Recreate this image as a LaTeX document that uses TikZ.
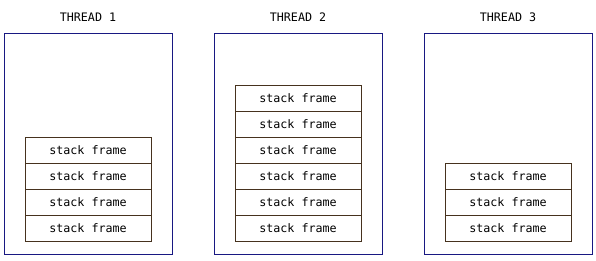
\documentclass[tikz,border=0pt]{standalone}
\usepackage{fontspec}
\setmonofont{DejaVu Sans Mono}
\usepackage{xcolor}
\usepackage{tikz}
\usetikzlibrary{positioning}
\definecolor{threadblue}{RGB}{24,24,130}
\definecolor{framebrown}{RGB}{70,50,30}

\begin{document}
\begin{tikzpicture}[x=1pt,y=1pt,font=\ttfamily\fontsize{11.7pt}{14pt}\selectfont,
  thread/.style={draw=threadblue,line width=0.9pt,minimum width=168pt,minimum height=221pt,inner sep=0pt,outer sep=0pt},
  frame/.style={draw=framebrown,line width=0.9pt,minimum width=126pt,minimum height=26pt,inner sep=0pt,outer sep=0pt},
  title/.style={inner sep=0pt}
]
  \useasboundingbox (0,0) rectangle (596,261);
  % threads
  \node[thread] (t1) at (88,117.5) {};
  \node[thread, right=42pt of t1] (t2) {};
  \node[thread, right=42pt of t2] (t3) {};
  \node[title, above=11pt of t1] (h1) {THREAD 1};
  \node[title, above=11pt of t2] (h2) {THREAD 2};
  \node[title, above=11pt of t3] (h3) {THREAD 3};
  % thread 1 stack
  \node[frame, above=13pt of t1.south] (a1) {stack frame};
  \node[frame, above=0pt of a1] (a2) {stack frame};
  \node[frame, above=0pt of a2] (a3) {stack frame};
  \node[frame, above=0pt of a3] (a4) {stack frame};
  % thread 2 stack
  \node[frame, above=13pt of t2.south] (b1) {stack frame};
  \node[frame, above=0pt of b1] (b2) {stack frame};
  \node[frame, above=0pt of b2] (b3) {stack frame};
  \node[frame, above=0pt of b3] (b4) {stack frame};
  \node[frame, above=0pt of b4] (b5) {stack frame};
  \node[frame, above=0pt of b5] (b6) {stack frame};
  % thread 3 stack
  \node[frame, above=13pt of t3.south] (c1) {stack frame};
  \node[frame, above=0pt of c1] (c2) {stack frame};
  \node[frame, above=0pt of c2] (c3) {stack frame};
\end{tikzpicture}
\end{document}
